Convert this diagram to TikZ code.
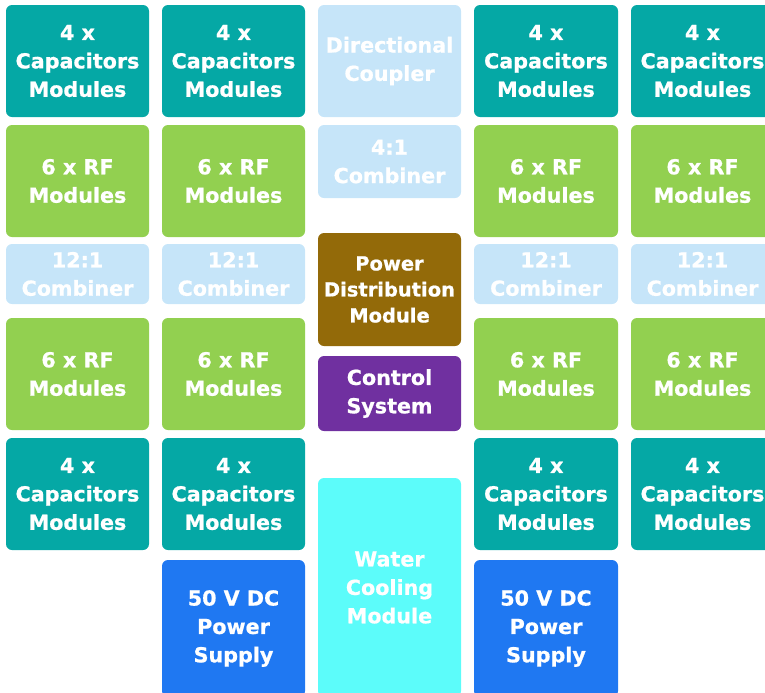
\documentclass[tikz,border=0pt]{standalone}
\usepackage{fontspec}
\setmainfont{DejaVu Sans}[BoldFeatures={FakeBold=0.8}]
\definecolor{capc}{HTML}{05A8A5}
\definecolor{rfc}{HTML}{92D050}
\definecolor{combc}{HTML}{C6E5F9}
\definecolor{pdmc}{HTML}{936A09}
\definecolor{ctlc}{HTML}{7030A0}
\definecolor{watc}{HTML}{5CFCFA}
\definecolor{psc}{HTML}{1F78F2}
\newcommand\mybox[7]{\node[blk,#1,minimum width={(#4-#2)*0.75pt},minimum height={(#5-#3)*0.75pt}] (#6) at ({(#2+#4)/2},{(#3+#5)/2}) {#7};}
\tikzset{
  blk/.style={rectangle,rounded corners=4.5pt,inner sep=0pt,align=center,text=white,
    font=\bfseries\fontsize{15.5}{21.3}\selectfont},
  capbox/.style={fill=capc},
  rfbox/.style={fill=rfc},
  combbox/.style={fill=combc},
  pdmbox/.style={fill=pdmc,font=\bfseries\fontsize{14.6}{19.5}\selectfont},
  ctlbox/.style={fill=ctlc},
  watbox/.style={fill=watc},
  psbox/.style={fill=psc}
}
\begin{document}
\begin{tikzpicture}[x=0.75pt,y=-0.75pt]
\useasboundingbox (0,0) rectangle (765,693);
\clip (0,0) rectangle (765,693);
% column 1
\mybox{capbox}{6}{5}{149}{117}{c1r1}{4 x\\Capacitors\\Modules}
\mybox{rfbox}{6}{125}{149}{237}{c1r2}{6 x RF\\Modules}
\mybox{combbox}{6}{244}{149}{304}{c1r3}{12:1\\Combiner}
\mybox{rfbox}{6}{318}{149}{430}{c1r4}{6 x RF\\Modules}
\mybox{capbox}{6}{438}{149}{550}{c1r5}{4 x\\Capacitors\\Modules}
% column 2
\mybox{capbox}{162}{5}{305}{117}{c2r1}{4 x\\Capacitors\\Modules}
\mybox{rfbox}{162}{125}{305}{237}{c2r2}{6 x RF\\Modules}
\mybox{combbox}{162}{244}{305}{304}{c2r3}{12:1\\Combiner}
\mybox{rfbox}{162}{318}{305}{430}{c2r4}{6 x RF\\Modules}
\mybox{capbox}{162}{438}{305}{550}{c2r5}{4 x\\Capacitors\\Modules}
\mybox{psbox}{162}{560}{305}{697}{c2r6}{50 V DC\\Power\\Supply}
% column 3 (middle)
\mybox{combbox}{318}{5}{461}{117}{dc}{Directional\\Coupler}
\mybox{combbox}{318}{125}{461}{198}{comb41}{4:1\\Combiner}
\mybox{pdmbox}{318}{233}{461}{346}{pdm}{Power\\Distribution\\Module}
\mybox{ctlbox}{318}{356}{461}{431}{ctl}{Control\\System}
\mybox{watbox}{318}{478}{461}{697}{wat}{Water\\Cooling\\Module}
% column 4
\mybox{capbox}{474}{5}{618}{117}{c4r1}{4 x\\Capacitors\\Modules}
\mybox{rfbox}{474}{125}{618}{237}{c4r2}{6 x RF\\Modules}
\mybox{combbox}{474}{244}{618}{304}{c4r3}{12:1\\Combiner}
\mybox{rfbox}{474}{318}{618}{430}{c4r4}{6 x RF\\Modules}
\mybox{capbox}{474}{438}{618}{550}{c4r5}{4 x\\Capacitors\\Modules}
\mybox{psbox}{474}{560}{618}{697}{c4r6}{50 V DC\\Power\\Supply}
% column 5
\mybox{capbox}{631}{5}{774}{117}{c5r1}{4 x\\Capacitors\\Modules}
\mybox{rfbox}{631}{125}{774}{237}{c5r2}{6 x RF\\Modules}
\mybox{combbox}{631}{244}{774}{304}{c5r3}{12:1\\Combiner}
\mybox{rfbox}{631}{318}{774}{430}{c5r4}{6 x RF\\Modules}
\mybox{capbox}{631}{438}{774}{550}{c5r5}{4 x\\Capacitors\\Modules}
\end{tikzpicture}
\end{document}
